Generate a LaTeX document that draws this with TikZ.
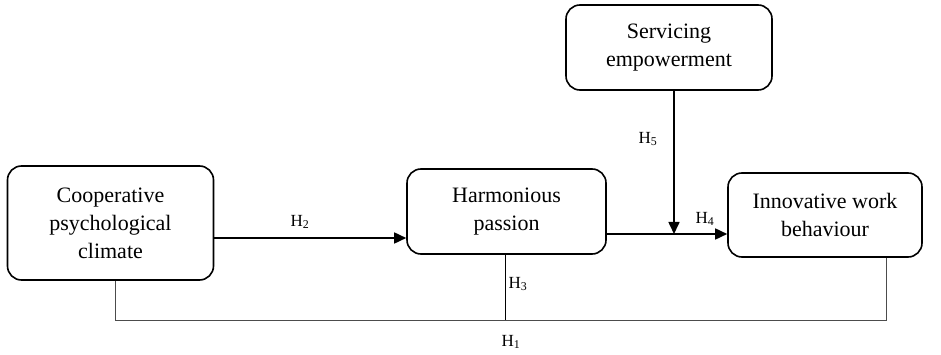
\documentclass[tikz,border=0pt]{standalone}
\usepackage{fontspec}
\setmainfont{Liberation Serif}
\usetikzlibrary{arrows.meta}
\begin{document}
\begin{tikzpicture}[x=1pt,y=-1pt,
  box/.style={draw,line width=1.6pt,rounded corners=14pt,align=center,
    inner sep=0pt,font=\fontsize{22}{28}\selectfont},
  arr/.style={line width=1.6pt,-{Triangle[length=12pt,width=11pt]}},
  thinline/.style={line width=0.9pt,draw=black!70},
  hlab/.style={font=\fontsize{17}{19}\selectfont,inner sep=0pt}]
\useasboundingbox (0,0) rectangle (941,355);
\node[box,minimum width=206pt,minimum height=114pt] (A) at (110.5,223) {Cooperative\\psychological\\climate};
\node[box,minimum width=199pt,minimum height=85pt] (B) at (506.5,211.5) {Harmonious\\passion};
\node[box,minimum width=194pt,minimum height=84pt] (C) at (825,215) {Innovative work\\behaviour};
\node[box,minimum width=206pt,minimum height=85pt] (D) at (669,47.5) {Servicing\\empowerment};
\coordinate (y2) at (0,238);
\coordinate (y4) at (0,234);
\coordinate (j) at (674,234);
\coordinate (bl) at (115,320);
\coordinate (bm) at (505,320);
\coordinate (br) at (886,320);
\draw[arr] (A.east |- y2) -- (B.west |- y2);
\draw[arr] (B.east |- y4) -- (C.west |- y4);
\draw[arr] (D.south -| j) -- (j);
\draw[thinline] (A.south -| bl) -- (bl) -- (br) -- (C.south -| br);
\draw[line width=0.9pt] (B.south -| bm) -- (bm);
\node[hlab] (h2) at (300,222) {H\textsubscript{2}};
\node[hlab] (h4) at (705,219) {H\textsubscript{4}};
\node[hlab] (h5) at (648,139) {H\textsubscript{5}};
\node[hlab] (h3) at (518,284) {H\textsubscript{3}};
\node[hlab] (h1) at (511,342) {H\textsubscript{1}};
\end{tikzpicture}
\end{document}
